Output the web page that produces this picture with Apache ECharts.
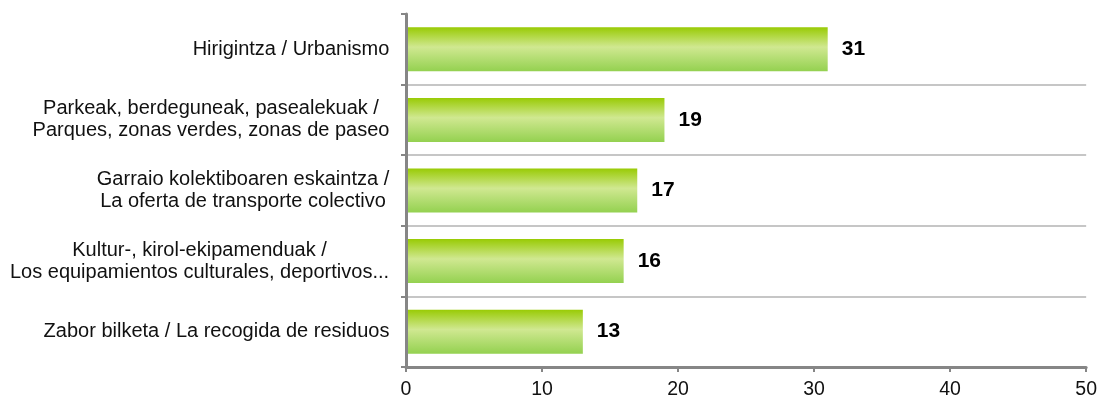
<!DOCTYPE html>
<html>
<head>
<meta charset="utf-8">
<script src="https://cdn.jsdelivr.net/npm/echarts@6/dist/echarts.min.js"></script>
<style>
html,body{margin:0;padding:0;background:#fff;}
#chart{width:1100px;height:400px;}
</style>
</head>
<body>
<div id="chart"></div>
<script>
const categories = [
  'Hirigintza / Urbanismo',
  'Parkeak, berdeguneak, pasealekuak /\nParques, zonas verdes, zonas de paseo',
  'Garraio kolektiboaren eskaintza /\nLa oferta de transporte colectivo',
  'Kultur-, kirol-ekipamenduak /\nLos equipamientos culturales, deportivos...',
  'Zabor bilketa / La recogida de residuos'
];
const values = [31, 19, 17, 16, 13];
const xMin = 0, xMax = 50, xStep = 10;

const FONT_SIZE = 20;
const FONT_FAMILY = '"Liberation Sans", Arial, sans-serif';
const cv = document.createElement('canvas').getContext('2d');
cv.font = FONT_SIZE + 'px ' + FONT_FAMILY;
const rich = {};
categories.forEach((c, i) => {
  const w = Math.max(...c.split('\n').map(l => cv.measureText(l).width));
  rich['c' + i] = {
    width: Math.ceil(w) + 1,
    align: 'center',
    fontSize: FONT_SIZE,
    fontFamily: FONT_FAMILY,
    color: '#111',
    lineHeight: 22
  };
});

const chart = echarts.init(document.getElementById('chart'), null, {renderer: 'canvas'});
chart.setOption({
  animation: false,
  backgroundColor: '#fff',
  grid: {left: 406, right: 12, top: 14, bottom: 31, containLabel: false},
  xAxis: {
    type: 'value',
    min: xMin, max: xMax, interval: xStep,
    z: 5,
    axisLine: {show: true, lineStyle: {color: '#868686', width: 3}},
    axisTick: {show: true, length: 5, lineStyle: {color: '#868686', width: 2}},
    splitLine: {show: false},
    axisLabel: {margin: 13, fontSize: 19.5, fontFamily: FONT_FAMILY, color: '#111'}
  },
  yAxis: {
    type: 'category',
    data: categories,
    inverse: true,
    z: 5,
    axisLine: {show: true, lineStyle: {color: '#868686', width: 3}},
    axisTick: {show: true, length: 5, alignWithLabel: false, lineStyle: {color: '#868686', width: 2}},
    splitLine: {show: true, showMinLine: false, showMaxLine: false, lineStyle: {color: '#b3b3b3', width: 1.5}},
    axisLabel: {
      margin: 16,
      align: 'right',
      formatter: (v, i) => v.split('\n').map(l => '{c' + i + '|' + l + '}').join('\n'),
      rich: rich
    }
  },
  series: [{
    type: 'bar',
    data: values,
    barWidth: 44,
    itemStyle: {
      color: new echarts.graphic.LinearGradient(0, 0, 0, 1, [
        {offset: 0, color: '#99cb05'},
        {offset: 0.45, color: '#d0e891'},
        {offset: 1, color: '#94d150'}
      ])
    },
    label: {
      show: true, position: 'right', distance: 14,
      fontSize: 21, fontWeight: 'bold', fontFamily: FONT_FAMILY, color: '#000'
    }
  }]
});
</script>
</body>
</html>
